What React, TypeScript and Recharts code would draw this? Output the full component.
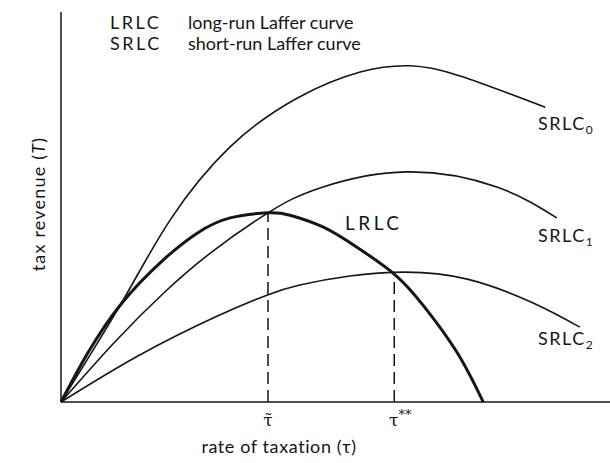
import React from "react";
import { ComposedChart, Line, XAxis, YAxis, ReferenceLine, Legend, Label } from "recharts";

// tax rate (0-100 along the axis) and revenue (0-100 up the axis)
const lrlcRate = [0, 4.9, 11.1, 18.6, 24.8, 30.8, 37.7, 41.7, 47.7, 53.9, 60.7, 65.9, 72.1, 76.9];
const lrlcRevenue = [0, 12.6, 25.4, 36.4, 43.3, 47.2, 48.5, 47.9, 44.9, 39.7, 32.8, 24.9, 12.8, 0];

const srlc0Rate = [0, 11.1, 19.9, 30.8, 43.0, 54.5, 63.6, 72.7, 88.2];
const srlc0Revenue = [0, 25.6, 46.7, 65.4, 77.9, 84.6, 86.2, 83.6, 75.6];

const srlc1Rate = [0, 9.8, 18.9, 27.5, 37.7, 47.2, 63.0, 79.4, 90.3];
const srlc1Revenue = [0, 15.4, 28.2, 38.5, 48.5, 54.9, 59.0, 55.1, 47.2];

const srlc2Rate = [0, 14.0, 28.1, 37.5, 43.5, 52.6, 62.7, 74.0, 86.0, 94.5];
const srlc2Revenue = [0, 11.8, 21.8, 27.4, 30.0, 32.3, 33.3, 31.5, 25.4, 19.2];

const tauTilde = 37.7;
const tauStar = 60.7;
const tauTildeRevenue = 48.5;
const tauStarRevenue = 32.8;

const legendRows = [
  { code: "LRLC", text: "long-run Laffer curve" },
  { code: "SRLC", text: "short-run Laffer curve" },
];

const FONT = "Lato, 'Open Sans', sans-serif";
const INK = "#151515";

const toPoints = (rate: number[], revenue: number[]) =>
  rate.map((r, i) => ({ rate: r, revenue: revenue[i] }));

const LegendBlock = () => (
  <div style={{ fontFamily: FONT, fontSize: 18, color: INK, lineHeight: "21px" }}>
    {legendRows.map((row) => (
      <div key={row.code} style={{ display: "flex" }}>
        <span style={{ width: 78, letterSpacing: 2.5 }}>{row.code}</span>
        <span>{row.text}</span>
      </div>
    ))}
  </div>
);

const endLabel = (sub: string, lastIndex: number, dy: number) => (props: any) => {
  if (props.index !== lastIndex) return null;
  return (
    <text x={538} y={props.y + dy} fontFamily={FONT} fontSize={18} fill={INK} letterSpacing={1.5}>
      SRLC
      <tspan fontSize={12} dy={4}>{sub}</tspan>
    </text>
  );
};

const lrlcLabel = (props: any) => {
  if (props.index !== 6) return null;
  return (
    <text x={props.x + 77} y={props.y + 17} fontFamily={FONT} fontSize={19} fill={INK} letterSpacing={3.5}>
      LRLC
    </text>
  );
};

const RateTick = (props: any) => {
  const { x, y, payload } = props;
  if (payload.value === tauTilde) {
    return (
      <text x={x} y={y + 16} textAnchor="middle" fontFamily="'DejaVu Serif', serif" fontSize={17} fill={INK}>
        {"τ\u0303"}
      </text>
    );
  }
  return (
    <text x={x + 6} y={y + 16} textAnchor="middle" fontFamily="'DejaVu Serif', serif" fontSize={17} fill={INK}>
      τ<tspan fontSize={13} dy={-7}>**</tspan>
    </text>
  );
};

export default function App() {
  return (
    <div style={{ position: "absolute", left: 0, top: 0, background: "#fff" }}>
      <ComposedChart width={610} height={463} margin={{ top: 12, right: 0, bottom: 0, left: 39 }}>
        <XAxis
          dataKey="rate"
          type="number"
          domain={[0, 100]}
          ticks={[tauTilde, tauStar]}
          tick={<RateTick />}
          tickLine={false}
          axisLine={{ stroke: INK, strokeWidth: 1.5 }}
          height={61}
        >
          <Label
            content={() => (
              <text x={279} y={453} textAnchor="middle" fontFamily={FONT} fontSize={18} fill={INK} letterSpacing={0.6}>
                rate of taxation (τ)
              </text>
            )}
          />
        </XAxis>
        <YAxis
          dataKey="revenue"
          type="number"
          domain={[0, 100]}
          tick={false}
          tickLine={false}
          axisLine={{ stroke: INK, strokeWidth: 1.5 }}
          width={22}
        >
          <Label
            content={() => (
              <text
                x={45}
                y={204}
                transform="rotate(-90, 45, 204)"
                textAnchor="middle"
                fontFamily={FONT}
                fontSize={18}
                fill={INK}
                letterSpacing={1.2}
              >
                tax revenue (<tspan fontStyle="italic">T</tspan>)
              </text>
            )}
          />
        </YAxis>
        <Legend
          layout="vertical"
          align="center"
          verticalAlign="middle"
          content={<LegendBlock />}
          wrapperStyle={{ top: 12, left: 110, width: 340 }}
        />
        <ReferenceLine
          segment={[{ x: tauTilde, y: 0 }, { x: tauTilde, y: tauTildeRevenue }]}
          stroke={INK}
          strokeWidth={1.5}
          strokeDasharray="12 6"
        />
        <ReferenceLine
          segment={[{ x: tauStar, y: 0 }, { x: tauStar, y: tauStarRevenue }]}
          stroke={INK}
          strokeWidth={1.5}
          strokeDasharray="12 6"
        />
        <Line
          data={toPoints(srlc0Rate, srlc0Revenue)}
          dataKey="revenue"
          type="natural"
          stroke={INK}
          strokeWidth={1.6}
          dot={false}
          isAnimationActive={false}
          label={endLabel("0", srlc0Rate.length - 1, 23)}
        />
        <Line
          data={toPoints(srlc1Rate, srlc1Revenue)}
          dataKey="revenue"
          type="natural"
          stroke={INK}
          strokeWidth={1.6}
          dot={false}
          isAnimationActive={false}
          label={endLabel("1", srlc1Rate.length - 1, 24)}
        />
        <Line
          data={toPoints(srlc2Rate, srlc2Revenue)}
          dataKey="revenue"
          type="natural"
          stroke={INK}
          strokeWidth={1.6}
          dot={false}
          isAnimationActive={false}
          label={endLabel("2", srlc2Rate.length - 1, 18)}
        />
        <Line
          data={toPoints(lrlcRate, lrlcRevenue)}
          dataKey="revenue"
          type="natural"
          stroke={INK}
          strokeWidth={3}
          dot={false}
          isAnimationActive={false}
          label={lrlcLabel}
        />
      </ComposedChart>
    </div>
  );
}
